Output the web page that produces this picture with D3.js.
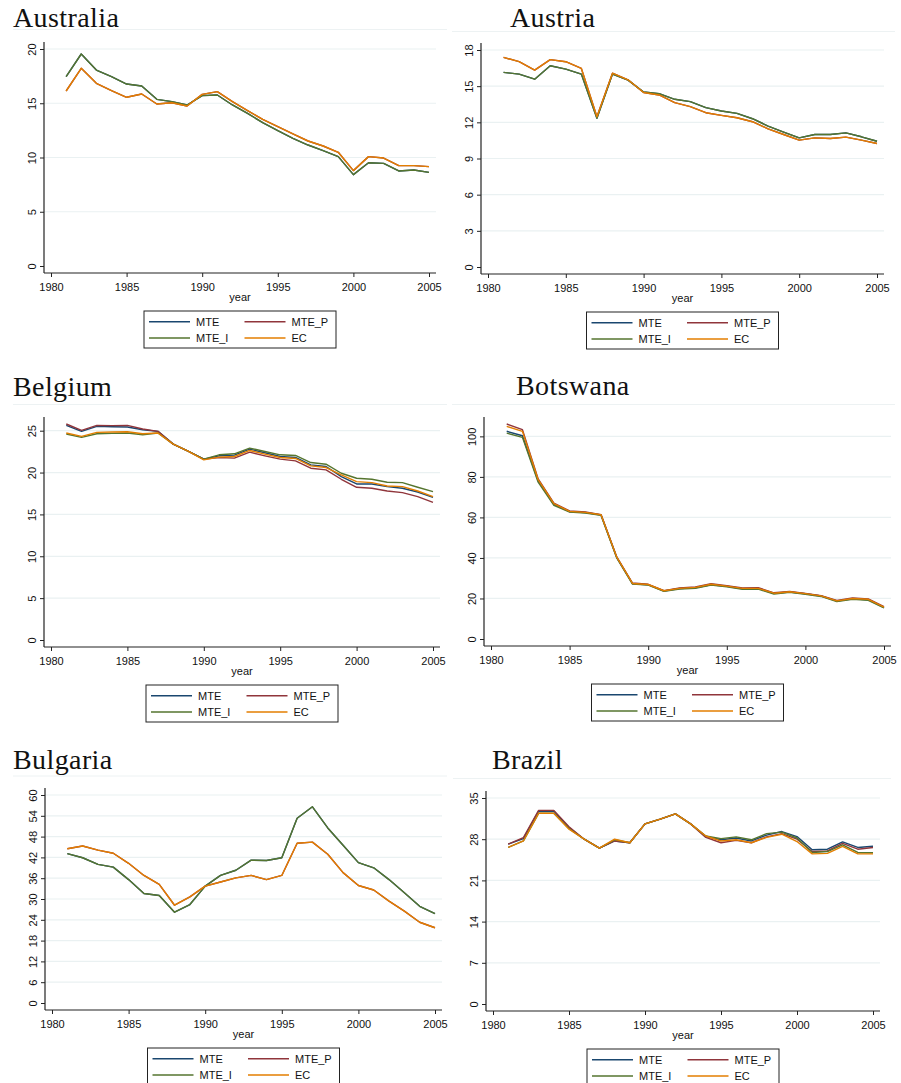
<!DOCTYPE html>
<html><head><meta charset="utf-8">
<script src="https://cdn.jsdelivr.net/npm/d3@7"></script>
<style>body{margin:0;background:#fff} svg{display:block}</style>
</head><body>
<svg id="c" width="901" height="1083"></svg>
<script>
// ---------- data ----------
const years = [1981,1982,1983,1984,1985,1986,1987,1988,1989,1990,1991,1992,1993,1994,1995,1996,1997,1998,1999,2000,2001,2002,2003,2004,2005];
const xTicks = [1980,1985,1990,1995,2000,2005];
const seriesNames = ["MTE","MTE_P","MTE_I","EC"];
const seriesColors = ["#1a476f","#90353b","#55752f","#e37e00"];

const australiaTicks = [0,5,10,15,20];
const australia_MTE   = [17.45,19.54,18.06,17.45,16.77,16.59,15.36,15.15,14.84,15.70,15.76,14.84,14.07,13.21,12.47,11.77,11.15,10.63,10.08,8.42,9.52,9.46,8.76,8.85,8.63];
const australia_MTE_P = [16.13,18.22,16.84,16.16,15.55,15.85,14.93,15.05,14.75,15.82,16.07,15.15,14.32,13.52,12.84,12.17,11.52,11.06,10.48,8.79,10.08,9.95,9.25,9.25,9.16];
const australia_MTE_I = [17.45,19.54,18.06,17.45,16.77,16.59,15.36,15.15,14.84,15.70,15.76,14.84,14.07,13.21,12.47,11.77,11.15,10.63,10.08,8.42,9.52,9.46,8.76,8.85,8.63];
const australia_EC    = [16.13,18.22,16.84,16.16,15.55,15.85,14.93,15.05,14.75,15.82,16.07,15.15,14.32,13.52,12.84,12.17,11.52,11.06,10.48,8.79,10.08,9.95,9.25,9.25,9.16];

const austriaTicks = [0,3,6,9,12,15,18];
const austria_MTE   = [16.14,16.00,15.58,16.69,16.41,16.00,12.33,16.00,15.50,14.52,14.38,13.91,13.72,13.22,12.94,12.74,12.30,11.69,11.19,10.71,10.99,10.99,11.13,10.80,10.43];
const austria_MTE_P = [17.39,17.03,16.33,17.20,17.03,16.47,12.47,16.08,15.53,14.47,14.27,13.63,13.30,12.80,12.58,12.38,12.05,11.46,10.99,10.52,10.71,10.66,10.77,10.52,10.24];
const austria_MTE_I = [16.14,16.00,15.58,16.69,16.41,16.00,12.33,16.00,15.50,14.52,14.38,13.91,13.72,13.22,12.94,12.74,12.30,11.69,11.19,10.71,10.99,10.99,11.13,10.80,10.43];
const austria_EC    = [17.39,17.03,16.33,17.20,17.03,16.47,12.47,16.08,15.53,14.47,14.27,13.63,13.30,12.80,12.58,12.38,12.05,11.46,10.99,10.52,10.71,10.66,10.77,10.52,10.24];

const belgiumTicks = [0,5,10,15,20,25];
const belgium_MTE   = [25.64,24.92,25.52,25.48,25.44,25.12,24.92,23.40,22.52,21.60,22.00,22.08,22.80,22.36,21.92,21.80,20.92,20.72,19.52,18.64,18.64,18.32,18.12,17.68,17.04];
const belgium_MTE_P = [25.80,25.04,25.64,25.60,25.64,25.20,24.92,23.40,22.52,21.60,21.80,21.72,22.44,22.00,21.60,21.40,20.52,20.32,19.20,18.24,18.12,17.80,17.60,17.12,16.44];
const belgium_MTE_I = [24.60,24.20,24.64,24.68,24.72,24.52,24.72,23.40,22.52,21.60,22.12,22.24,22.92,22.52,22.12,22.04,21.20,21.00,19.92,19.32,19.20,18.84,18.80,18.24,17.72];
const belgium_EC    = [24.72,24.32,24.80,24.84,24.88,24.64,24.72,23.40,22.52,21.52,21.84,21.92,22.64,22.20,21.80,21.68,20.80,20.60,19.72,18.92,18.80,18.40,18.32,17.80,17.12];

const botswanaTicks = [0,20,40,60,80,100];
const botswana_MTE   = [102.5,100.3,78.0,66.5,62.8,62.4,61.2,40.2,27.3,26.8,23.7,24.9,25.3,26.8,26.0,24.8,24.9,22.5,23.2,22.3,21.2,18.7,19.8,19.4,15.5];
const botswana_MTE_P = [106.1,103.3,79.0,67.0,63.2,62.7,61.4,40.5,27.6,27.0,23.9,25.2,25.7,27.3,26.3,25.2,25.3,22.8,23.5,22.5,21.4,19.0,20.3,19.8,16.0];
const botswana_MTE_I = [101.6,99.5,77.4,66.0,62.6,62.2,61.0,40.0,27.1,26.6,23.5,24.7,25.0,26.6,25.7,24.5,24.6,22.2,23.0,22.1,21.0,18.5,19.6,19.1,15.3];
const botswana_EC    = [104.9,102.5,78.6,66.8,63.0,62.5,61.3,40.4,27.4,26.9,23.8,25.0,25.5,27.0,26.1,25.0,25.0,22.6,23.3,22.4,21.3,18.8,20.0,19.6,15.7];

const bulgariaTicks = [0,6,12,18,24,30,36,42,48,54,60];
const bulgaria_MTE   = [43.1,41.9,40.0,39.2,35.6,31.6,31.0,26.2,28.4,33.7,36.8,38.3,41.2,41.1,41.9,53.3,56.6,50.5,45.5,40.5,39.0,35.6,31.8,27.9,25.8];
const bulgaria_MTE_P = [44.5,45.3,44.1,43.2,40.3,36.8,34.2,28.2,30.6,33.7,34.9,36.1,36.8,35.6,36.8,46.1,46.4,42.9,37.6,33.9,32.6,29.4,26.5,23.3,21.7];
const bulgaria_MTE_I = [43.1,41.9,40.0,39.2,35.6,31.6,31.0,26.2,28.4,33.7,36.8,38.3,41.2,41.1,41.9,53.3,56.6,50.5,45.5,40.5,39.0,35.6,31.8,27.9,25.8];
const bulgaria_EC    = [44.5,45.3,44.1,43.2,40.3,36.8,34.2,28.2,30.6,33.7,34.9,36.1,36.8,35.6,36.8,46.1,46.4,42.9,37.6,33.9,32.6,29.4,26.5,23.3,21.7];

const brazilTicks = [0,7,14,21,28,35];
const brazil_MTE   = [27.16,28.10,32.76,32.80,29.96,28.00,26.50,27.70,27.40,30.60,31.40,32.30,30.60,28.45,27.90,28.20,27.70,28.70,29.30,28.45,26.20,26.30,27.55,26.60,26.80];
const brazil_MTE_P = [27.16,28.28,32.90,32.90,30.10,28.00,26.50,27.70,27.40,30.60,31.40,32.30,30.60,28.30,27.40,27.80,27.40,28.40,28.95,28.00,25.90,26.00,27.30,26.30,26.60];
const brazil_MTE_I = [26.60,27.70,32.40,32.40,29.80,28.00,26.50,27.90,27.40,30.60,31.40,32.30,30.60,28.55,28.10,28.40,27.90,28.95,29.20,28.20,25.75,25.90,27.05,25.75,25.70];
const brazil_EC    = [26.60,27.70,32.40,32.40,29.70,28.00,26.50,28.00,27.40,30.60,31.40,32.30,30.60,28.55,27.70,27.90,27.40,28.30,28.85,27.60,25.50,25.60,26.80,25.50,25.50];

// ---------- layout ----------
const panels = [
  {title:"Australia", ticks:australiaTicks, series:[australia_MTE,australia_MTE_P,australia_MTE_I,australia_EC], L:44,  R:436, T:42,  B:273,  tx:13,  ty:27,  sep:[13,447,29.5]},
  {title:"Austria",   ticks:austriaTicks,   series:[austria_MTE,austria_MTE_P,austria_MTE_I,austria_EC],         L:481, R:884, T:43,  B:274,  tx:510, ty:27,  sep:[452,895,31.5]},
  {title:"Belgium",   ticks:belgiumTicks,   series:[belgium_MTE,belgium_MTE_P,belgium_MTE_I,belgium_EC],         L:44,  R:440, T:417, B:647,  tx:13,  ty:396, sep:[13,447,404.5]},
  {title:"Botswana",  ticks:botswanaTicks,  series:[botswana_MTE,botswana_MTE_P,botswana_MTE_I,botswana_EC],     L:484, R:891, T:417, B:646,  tx:516, ty:395, sep:[452,895,404.5]},
  {title:"Bulgaria",  ticks:bulgariaTicks,  series:[bulgaria_MTE,bulgaria_MTE_P,bulgaria_MTE_I,bulgaria_EC],     L:45,  R:442, T:788, B:1010, tx:13,  ty:769, sep:[13,447,776]},
  {title:"Brazil",    ticks:brazilTicks,    series:[brazil_MTE,brazil_MTE_P,brazil_MTE_I,brazil_EC],             L:486, R:880, T:791, B:1011, tx:492, ty:769, sep:[453,891,778.5]}
];

const svg = d3.select("#c");
const sans = "'Liberation Sans', Arial, sans-serif";
const serif = "'Liberation Serif', 'Times New Roman', serif";

panels.forEach(p => {
  const g = svg.append("g");
  // title + separator
  g.append("line").attr("x1",p.sep[0]).attr("x2",p.sep[1]).attr("y1",p.sep[2]).attr("y2",p.sep[2])
    .attr("stroke","#edf2f3").attr("stroke-width",1);
  g.append("text").attr("x",p.tx).attr("y",p.ty).text(p.title)
    .attr("font-family",serif).attr("font-size",28).attr("letter-spacing",0.4).attr("fill","#111");

  const yMax = Math.max(p.ticks[p.ticks.length-1], d3.max(p.series.flat()));
  const x = d3.scaleLinear().domain([1980,2005]).range([p.L+7, p.R-7]);
  const y = d3.scaleLinear().domain([0,yMax]).range([p.B-7, p.T+7]);

  // gridlines
  g.append("g").selectAll("line").data(p.ticks.filter(t=>t>0)).join("line")
    .attr("x1",p.L).attr("x2",p.R).attr("y1",d=>y(d)).attr("y2",d=>y(d))
    .attr("stroke","#eaf1f2").attr("stroke-width",1.2);

  // y axis
  const ya = g.append("g").attr("transform",`translate(${p.L},0)`)
    .call(d3.axisLeft(y).tickValues(p.ticks).tickSize(4).tickFormat(d3.format("d")));
  ya.select(".domain").remove();
  ya.selectAll(".tick line").attr("stroke","#222");
  ya.selectAll(".tick text").attr("transform","rotate(-90)").attr("x",0).attr("y",-8).attr("dy",0)
    .attr("text-anchor","middle").attr("font-family",sans).attr("font-size",11).attr("fill","#111");
  g.append("line").attr("x1",p.L).attr("x2",p.L).attr("y1",p.T).attr("y2",p.B).attr("stroke","#222").attr("stroke-width",1.2);

  // x axis
  const xa = g.append("g").attr("transform",`translate(0,${p.B})`)
    .call(d3.axisBottom(x).tickValues(xTicks).tickSize(4).tickFormat(d3.format("d")));
  xa.select(".domain").remove();
  xa.selectAll(".tick line").attr("stroke","#222");
  xa.selectAll(".tick text").attr("y",18).attr("dy",0).attr("font-family",sans).attr("font-size",11).attr("fill","#111");
  g.append("line").attr("x1",p.L).attr("x2",p.R).attr("y1",p.B).attr("y2",p.B).attr("stroke","#222").attr("stroke-width",1.2);
  g.append("text").attr("x",(p.L+p.R)/2).attr("y",p.B+28).attr("text-anchor","middle")
    .attr("font-family",sans).attr("font-size",11).attr("fill","#111").text("year");

  // lines
  const line = d3.line().x((d,i)=>x(years[i])).y(d=>y(d));
  p.series.forEach((s,k)=>{
    g.append("path").datum(s).attr("d",line).attr("fill","none")
      .attr("stroke",seriesColors[k]).attr("stroke-width",1.4).attr("stroke-linejoin","round");
  });

  // legend
  const bw = 192, bh = 37;
  const bx = (p.L+p.R)/2 - bw/2, by = p.B + 38;
  const lg = g.append("g").attr("transform",`translate(${bx},${by})`);
  lg.append("rect").attr("x",0).attr("y",0).attr("width",bw).attr("height",bh)
    .attr("fill","#fff").attr("stroke","#222").attr("stroke-width",1);
  seriesNames.forEach((n,k)=>{
    const col = k%2, row = Math.floor(k/2);
    const ox = col===0 ? 5 : 100.5;
    const oy = row===0 ? 10.7 : 27;
    lg.append("line").attr("x1",ox).attr("x2",ox+41).attr("y1",oy).attr("y2",oy)
      .attr("stroke",seriesColors[k]).attr("stroke-width",1.4);
    lg.append("text").attr("x",ox+47).attr("y",oy+4).attr("font-family",sans).attr("font-size",11)
      .attr("fill","#111").text(n);
  });
});
</script>
</body></html>
